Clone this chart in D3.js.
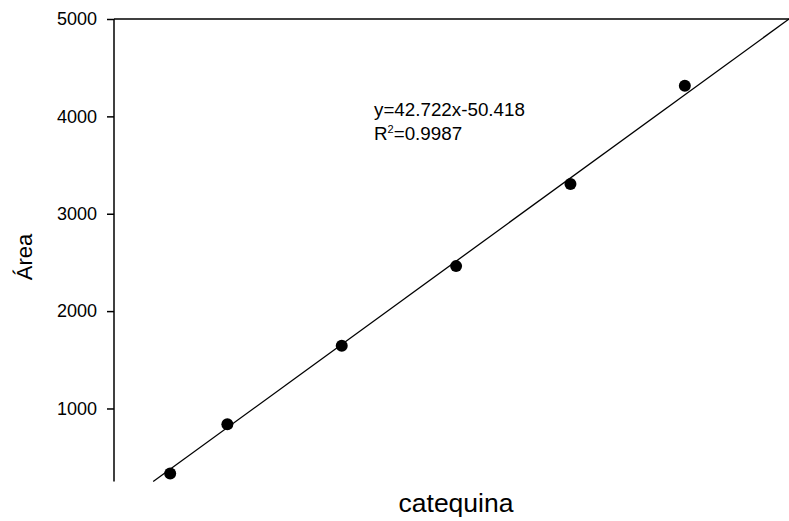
<!DOCTYPE html>
<html>
<head>
<meta charset="utf-8">
<script src="https://cdn.jsdelivr.net/npm/d3@7"></script>
<style>
  html, body { margin: 0; padding: 0; background: #fff; }
  svg { display: block; font-family: "Liberation Sans", Arial, sans-serif; }
</style>
</head>
<body>
<svg id="chart" width="789" height="521"></svg>
<script>
// Data
const concentrations = [10, 20, 40, 60, 80, 100];
const areaValues = [332, 839, 1643, 2462, 3305, 4315];
const yTickValues = [1000, 2000, 3000, 4000, 5000];
const slope = 42.722;
const intercept = -50.418;
const equationText = "y=42.722x-50.418";
const r2Text = "0.9987";
const xLabel = "catequina";
const yLabel = "Área";

(function () {
const svg = d3.select("#chart");
const axisX = 114, plotTop = 19, plotBottom = 481.5, plotRight = 789;

const yMin = 250, yMax = 5000;
const xMax = (yMax - intercept) / slope;

const x = d3.scaleLinear().domain([0, xMax]).range([113, plotRight]);
const y = d3.scaleLinear().domain([yMin, yMax]).range([plotBottom, plotTop]);

// Y axis
const yAxis = d3.axisLeft(y).tickValues(yTickValues).tickSize(7).tickPadding(10).tickFormat(d3.format("d"));
const gy = svg.append("g").attr("transform", `translate(${axisX},0)`).call(yAxis);
gy.select(".domain").remove();
gy.selectAll(".tick line").attr("stroke", "#000").attr("stroke-width", 1.5);
gy.selectAll(".tick text").attr("fill", "#000").style("font-size", "18px")
  .style("font-family", '"Liberation Sans", Arial, sans-serif');

// Axis line (left) and top frame line
svg.append("line").attr("x1", axisX).attr("x2", axisX).attr("y1", y(yMax)).attr("y2", y(yMin))
  .attr("stroke", "#000").attr("stroke-width", 1.5);
svg.append("line").attr("x1", axisX).attr("x2", plotRight).attr("y1", y(yMax)).attr("y2", y(yMax))
  .attr("stroke", "#000").attr("stroke-width", 1.5);

// Regression line
const xStart = (yMin - intercept) / slope;
const lineData = [xStart, xMax].map(v => ({ x: v, y: slope * v + intercept }));
svg.append("path")
  .datum(lineData)
  .attr("fill", "none")
  .attr("stroke", "#000")
  .attr("stroke-width", 1.3)
  .attr("d", d3.line().x(d => x(d.x)).y(d => y(d.y)));

// Points
svg.append("g").selectAll("circle")
  .data(concentrations.map((c, i) => ({ c, a: areaValues[i] })))
  .join("circle")
  .attr("cx", d => x(d.c))
  .attr("cy", d => y(d.a))
  .attr("r", 6)
  .attr("fill", "#000");

// Equation
svg.append("text").attr("x", 374).attr("y", 116).style("font-size", "18.8px").attr("fill", "#000")
  .text(equationText);
const r2 = svg.append("text").attr("x", 374).attr("y", 139.5).style("font-size", "18.8px").attr("fill", "#000");
r2.append("tspan").text("R");
r2.append("tspan").attr("dy", -7).style("font-size", "11px").text("2");
r2.append("tspan").attr("dy", 7).text("=" + r2Text);

// Axis labels
svg.append("text").attr("x", 456).attr("y", 512).attr("text-anchor", "middle")
  .style("font-size", "26.5px").attr("fill", "#000").text(xLabel);
svg.append("text").attr("transform", "translate(32,257) rotate(-90)").attr("text-anchor", "middle")
  .style("font-size", "22px").attr("fill", "#000").text(yLabel);
})();
</script>
</body>
</html>
